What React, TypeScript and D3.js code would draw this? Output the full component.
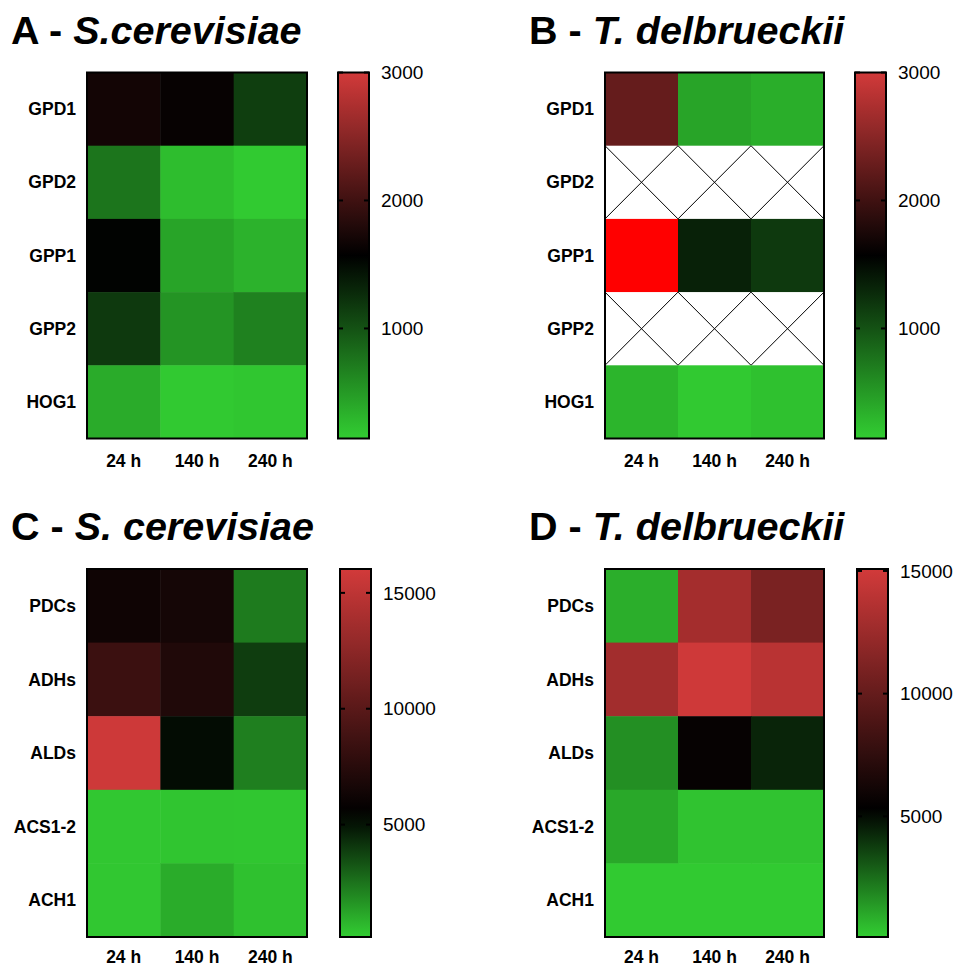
import React from 'react';
import * as d3 from 'd3';

// time points and gene names
const timePoints = ['24 h', '140 h', '240 h'];
const glyGenes = ['GPD1', 'GPD2', 'GPP1', 'GPP2', 'HOG1'];
const aceGenes = ['PDCs', 'ADHs', 'ALDs', 'ACS1-2', 'ACH1'];

// expression values (rows = genes, cols = time points), null = not measured
const scGly = [
  [1700, 1620, 1140],
  [755, 255, 160],
  [1550, 425, 325],
  [1170, 540, 670],
  [380, 170, 190],
];
const tdGly = [
  [2260, 425, 355],
  [null, null, null],
  [3400, 1340, 1170],
  [null, null, null],
  [310, 170, 225],
];
const scAce = [
  [6240, 6550, 2290],
  [8450, 7080, 3900],
  [15800, 5180, 2180],
  [300, 350, 320],
  [310, 1000, 470],
];
const tdAce = [
  [860, 12930, 10970],
  [12830, 14880, 13900],
  [1650, 5600, 4380],
  [1020, 340, 340],
  [150, 150, 160],
];

// colour scale domains [min, black point, max] and colorbar ticks
const glyDomain = [140, 1570, 3000];
const glyTicks = [1000, 2000, 3000];
const scAceDomain = [150, 5500, 16030];
const tdAceDomain = [80, 5300, 15080];
const aceTicks = [5000, 10000, 15000];

const FONT = 'Liberation Sans, Arial, sans-serif';
const GREEN = '#32cd32';
const RED = '#d23a3a';

type Panel = {
  id: string;
  letter: string;
  species: string;
  genes: string[];
  values: (number | null)[][];
  domain: number[];
  ticks: number[];
  hx: number; hy: number; hw: number; hh: number;
  cbx: number; cbw: number;
  tx: number; ty: number;
  labelY: number;
};

const panels: Panel[] = [
  { id: 'A', letter: 'A - ', species: 'S.cerevisiae', genes: glyGenes, values: scGly, domain: glyDomain, ticks: glyTicks,
    hx: 87, hy: 72.5, hw: 220, hh: 366, cbx: 338, cbw: 31, tx: 11, ty: 44, labelY: 467 },
  { id: 'B', letter: 'B - ', species: 'T. delbrueckii', genes: glyGenes, values: tdGly, domain: glyDomain, ticks: glyTicks,
    hx: 605, hy: 72.5, hw: 219, hh: 366, cbx: 855, cbw: 31, tx: 529, ty: 44, labelY: 467 },
  { id: 'C', letter: 'C - ', species: 'S. cerevisiae', genes: aceGenes, values: scAce, domain: scAceDomain, ticks: aceTicks,
    hx: 87, hy: 569, hw: 220, hh: 368, cbx: 340, cbw: 31, tx: 11, ty: 540, labelY: 963 },
  { id: 'D', letter: 'D - ', species: 'T. delbrueckii', genes: aceGenes, values: tdAce, domain: tdAceDomain, ticks: aceTicks,
    hx: 605, hy: 569, hw: 219, hh: 368, cbx: 857, cbw: 31, tx: 529, ty: 540, labelY: 963 },
];

function HeatPanel({ p }: { p: Panel }) {
  const color = d3.scaleLinear<string>()
    .domain(p.domain)
    .range([GREEN, '#000000', RED])
    .interpolate(d3.interpolateRgb);
  const fill = (v: number) => (v > p.domain[2] ? '#ff0000' : color(v));

  const x = d3.scaleBand().domain(timePoints).range([p.hx, p.hx + p.hw]);
  const y = d3.scaleBand().domain(p.genes).range([p.hy, p.hy + p.hh]);

  const cbScale = d3.scaleLinear()
    .domain([p.domain[0], p.domain[2]])
    .range([p.hy + p.hh, p.hy]);

  const gradId = 'grad' + p.id;
  const stops = d3.range(0, 1.0001, 0.05);

  return (
    <g>
      <text x={p.tx} y={p.ty} fontFamily={FONT} fontWeight="bold" fontSize={39.5}>
        {p.letter}<tspan fontStyle="italic">{p.species}</tspan>
      </text>

      {p.genes.map((g, i) => (
        <g key={g}>
          {timePoints.map((t, j) => {
            const v = p.values[i][j];
            const cx = x(t)!, cy = y(g)!, w = x.bandwidth(), h = y.bandwidth();
            if (v === null) {
              return (
                <g key={t}>
                  <rect x={cx} y={cy} width={w} height={h} fill="#fff" />
                  <line x1={cx} y1={cy} x2={cx + w} y2={cy + h} stroke="#000" strokeWidth={1} />
                  <line x1={cx + w} y1={cy} x2={cx} y2={cy + h} stroke="#000" strokeWidth={1} />
                </g>
              );
            }
            return <rect key={t} x={cx} y={cy} width={w + 0.5} height={h + 0.5} fill={fill(v)} />;
          })}
          <text x={p.hx - 11} y={y(g)! + y.bandwidth() / 2} dy="0.35em" textAnchor="end"
            fontFamily={FONT} fontWeight="bold" fontSize={17.5}>{g}</text>
        </g>
      ))}
      <rect x={p.hx} y={p.hy} width={p.hw} height={p.hh} fill="none" stroke="#000" strokeWidth={2} />

      {timePoints.map((t) => (
        <text key={t} x={x(t)! + x.bandwidth() / 2} y={p.labelY} textAnchor="middle"
          fontFamily={FONT} fontWeight="bold" fontSize={17.5}>{t}</text>
      ))}

      <defs>
        <linearGradient id={gradId} x1="0" y1="1" x2="0" y2="0">
          {stops.map((s) => (
            <stop key={s} offset={s} stopColor={color(p.domain[0] + s * (p.domain[2] - p.domain[0]))} />
          ))}
        </linearGradient>
      </defs>
      <rect x={p.cbx} y={p.hy} width={p.cbw} height={p.hh} fill={`url(#${gradId})`} stroke="#000" strokeWidth={2} />
      {p.ticks.map((tk) => (
        <g key={tk}>
          <line x1={p.cbx} x2={p.cbx + 5} y1={cbScale(tk)} y2={cbScale(tk)} stroke="#000" strokeWidth={2} />
          <line x1={p.cbx + p.cbw - 5} x2={p.cbx + p.cbw} y1={cbScale(tk)} y2={cbScale(tk)} stroke="#000" strokeWidth={2} />
          <text x={p.cbx + p.cbw + 12} y={cbScale(tk)} dy="0.35em" fontFamily={FONT} fontSize={19}>{tk}</text>
        </g>
      ))}
    </g>
  );
}

export default function App() {
  return (
    <svg width={959} height={966} style={{ position: 'absolute', left: 0, top: 0, background: '#fff' }}>
      <rect width={959} height={966} fill="#fff" />
      {panels.map((p) => <HeatPanel key={p.id} p={p} />)}
    </svg>
  );
}
